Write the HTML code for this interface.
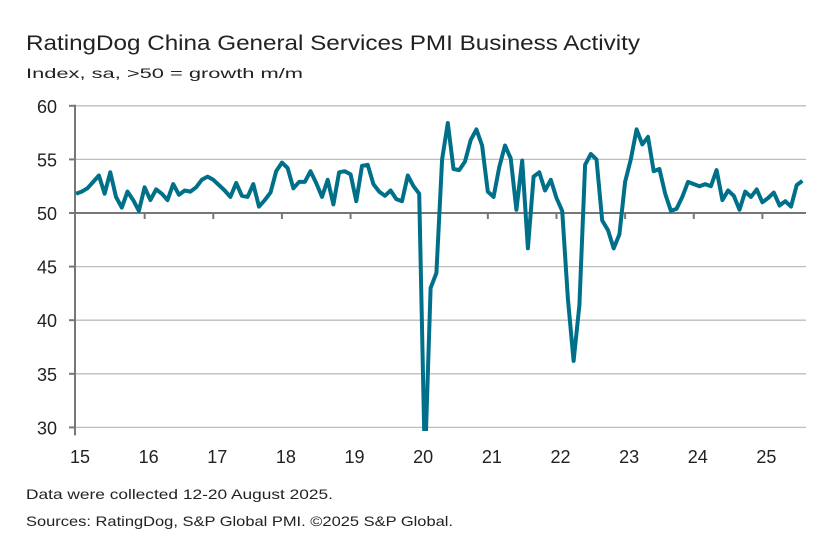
<!DOCTYPE html>
<html><head><meta charset="utf-8"><style>
body{margin:0;background:#fff;}
svg{display:block;font-family:"Liberation Sans",sans-serif;}
</style></head><body>
<svg id="chart" width="834" height="551">
<text x="26" y="50" font-size="21" fill="#222" textLength="614" lengthAdjust="spacingAndGlyphs">RatingDog China General Services PMI Business Activity</text>
<text x="26" y="78" font-size="14" fill="#222" textLength="277" lengthAdjust="spacingAndGlyphs">Index, sa, &gt;50 = growth m/m</text>
<text x="26" y="499" font-size="14" fill="#222" textLength="307" lengthAdjust="spacingAndGlyphs">Data were collected 12-20 August 2025.</text>
<text x="26" y="526" font-size="14" fill="#222" textLength="427" lengthAdjust="spacingAndGlyphs">Sources: RatingDog, S&amp;P Global PMI. ©2025 S&amp;P Global.</text>
<defs><clipPath id="plotclip"><rect x="70" y="95" width="750" height="336"/></clipPath></defs>
<g id="grid"></g><g id="axes"></g><g id="series" clip-path="url(#plotclip)"></g>
</svg>
<script>
const yTicks=[30,35,40,45,50,55,60];
const yearLabels=["15","16","17","18","19","20","21","22","23","24","25"];
const values=[
51.8,52.0,52.3,52.9,53.5,51.8,53.8,51.5,50.5,52.0,51.2,50.2,
52.4,51.2,52.2,51.8,51.2,52.7,51.7,52.1,52.0,52.4,53.1,53.4,
53.1,52.6,52.1,51.5,52.8,51.6,51.5,52.7,50.6,51.2,51.9,53.9,
54.7,54.2,52.3,52.9,52.9,53.9,52.8,51.5,53.1,50.8,53.8,53.9,
53.6,51.1,54.4,54.5,52.7,52.0,51.6,52.1,51.3,51.1,53.5,52.5,
51.8,26.5,43.0,44.4,55.0,58.4,54.1,54.0,54.8,56.8,57.8,56.3,
52.0,51.5,54.3,56.3,55.1,50.3,54.9,46.7,53.4,53.8,52.1,53.1,
51.4,50.2,42.0,36.2,41.4,54.5,55.5,55.0,49.3,48.4,46.7,48.0,
52.9,55.0,57.8,56.4,57.1,53.9,54.1,51.8,50.2,50.4,51.5,52.9,
52.7,52.5,52.7,52.5,54.0,51.2,52.1,51.6,50.3,52.0,51.5,52.2,
51.0,51.4,51.9,50.7,51.1,50.6,52.6,53.0];
const NS="http://www.w3.org/2000/svg";
const X0=76,MW=5.72;
const xs=i=>X0+i*MW;
const ys=v=>213-(v-50)*10.72;
function mk(t,a,p){const e=document.createElementNS(NS,t);for(const k in a)e.setAttribute(k,a[k]);p.appendChild(e);return e;}
const grid=document.getElementById('grid'),axes=document.getElementById('axes'),ser=document.getElementById('series');
yTicks.forEach(v=>{
  if(v!==50){const l=mk('line',{x1:75,x2:806,y1:ys(v),y2:ys(v),stroke:'#bdbdbd','stroke-width':1.3},grid);
  
  }
  const tk=mk('line',{x1:69,x2:75,y1:ys(v),y2:ys(v),stroke:'#777','stroke-width':2},axes);
  
  
  const t=mk('text',{x:57,y:ys(v)+7,'font-size':18,'text-anchor':'end',fill:'#222'},axes);
  t.textContent=v;
  
  
});
const ya=mk('line',{x1:75,x2:75,y1:ys(60)-1,y2:ys(30)+8,stroke:'#777','stroke-width':2},axes);


const xa=mk('line',{x1:75,x2:806,y1:ys(50),y2:ys(50),stroke:'#777','stroke-width':2},axes);


yearLabels.forEach((lab,k)=>{
  const x=xs(k*12);
  if(k>0){const tk=mk('line',{x1:x,x2:x,y1:ys(50),y2:ys(50)+6,stroke:'#777','stroke-width':2},axes);
  
  }
  const t=mk('text',{x:x+4,y:463,'font-size':18,'text-anchor':'middle',fill:'#222'},axes);
  t.textContent=lab;
  
  
});
const d=values.map((v,i)=>(i?'L':'M')+xs(i).toFixed(1)+' '+ys(v).toFixed(1)).join(' ');
const p=mk('path',{d:d,fill:'none',stroke:'#00708a','stroke-width':4,'stroke-linejoin':'round'},ser);


</script>
</body></html>
